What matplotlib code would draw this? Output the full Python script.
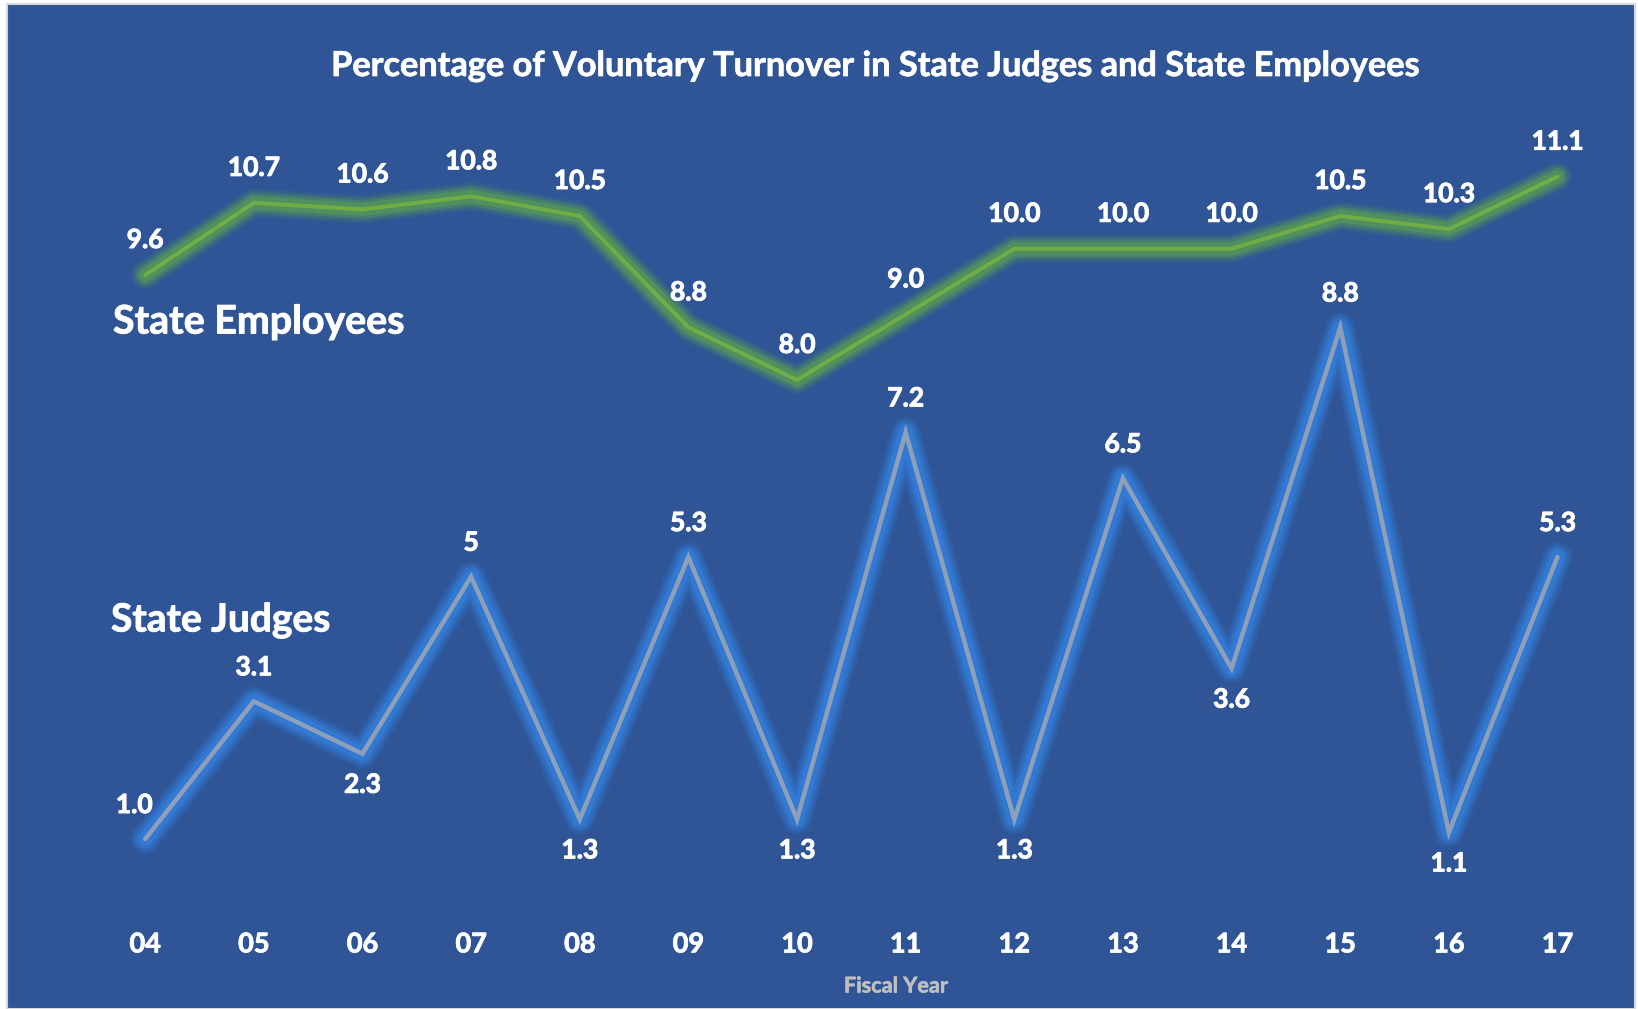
import matplotlib
matplotlib.use("Agg")
import matplotlib.pyplot as plt
from matplotlib.patches import Rectangle
import matplotlib.patheffects as pe

years = ["04", "05", "06", "07", "08", "09", "10", "11", "12", "13", "14", "15", "16", "17"]
employees = [9.6, 10.7, 10.6, 10.8, 10.5, 8.8, 8.0, 9.0, 10.0, 10.0, 10.0, 10.5, 10.3, 11.1]
judges = [1.0, 3.1, 2.3, 5.0, 1.3, 5.3, 1.3, 7.2, 1.3, 6.5, 3.6, 8.8, 1.1, 5.3]
employee_labels = ["9.6", "10.7", "10.6", "10.8", "10.5", "8.8", "8.0", "9.0", "10.0", "10.0", "10.0", "10.5", "10.3", "11.1"]
judge_labels = ["1.0", "3.1", "2.3", "5", "1.3", "5.3", "1.3", "7.2", "1.3", "6.5", "3.6", "8.8", "1.1", "5.3"]
judge_label_side = ["above", "above", "below", "above", "below", "above", "below",
                    "above", "below", "above", "below", "above", "below", "above"]
title = "Percentage of Voluntary Turnover in State Judges and State Employees"

W, H = 1638, 1009
BG = "#2F5597"
FONT = "Lato"

fig = plt.figure(figsize=(W / 100, H / 100), dpi=100)
fig.patch.set_facecolor("white")
# chart area background with thin light border
fig.patches.append(Rectangle((7 / W, 0), (1635 - 7) / W, (H - 4) / H, transform=fig.transFigure,
                             facecolor=BG, edgecolor="#D9D9D9", linewidth=1.5, zorder=-10))

left_px, right_px = 80, 1622.7
bottom_px, top_px = 904.6, 117.6
ax = fig.add_axes([left_px / W, 1 - bottom_px / H, (right_px - left_px) / W, (bottom_px - top_px) / H])
ax.set_facecolor("none")
ax.set_zorder(5)
x = list(range(len(years)))
ax.set_xlim(-0.6, len(years) - 1 + 0.6)
ax.set_ylim(0, 12)
for s in ax.spines.values():
    s.set_visible(False)
ax.set_yticks([])
ax.set_xticks(x)
ax.set_xticklabels(years, color="white", fontsize=19.5, fontweight="bold", family=FONT)
for t in ax.get_xticklabels():
    t.set_path_effects([pe.withStroke(linewidth=0.6, foreground="white")])
ax.tick_params(axis="x", length=0, pad=20)

px = 0.72  # points per pixel
bold_fx = [pe.withStroke(linewidth=0.7, foreground="white")]


def glow_line(ys, line_color, glow_color, lw_px, layers):
    for w, a in layers:
        ax.plot(x, ys, color=glow_color, lw=w * px, alpha=a, solid_joinstyle="round",
                solid_capstyle="round", zorder=2)
    ax.plot(x, ys, color=line_color, lw=lw_px * px, solid_joinstyle="miter",
            solid_capstyle="round", zorder=3)


glow_line(employees, "#70AD47", "#5EA84A",
          4, [(28, 0.12), (23, 0.2), (18, 0.3), (13, 0.45)])
glow_line(judges, "#8E9FBA", "#3381E0",
          4.5, [(30, 0.15), (25, 0.25), (20, 0.38), (14, 0.6)])

for xi, v, lab in zip(x, employees, employee_labels):
    ax.annotate(lab, (xi, v), xytext=(0, 35 * px), textcoords="offset points",
                ha="center", va="center", color="white", fontsize=19,
                fontweight="bold", family=FONT, zorder=5, path_effects=bold_fx)

for i, (xi, v, lab, side) in enumerate(zip(x, judges, judge_labels, judge_label_side)):
    dy = 34 if side == "above" else -31
    dx = -11 if i == 0 else 0
    ax.annotate(lab, (xi, v), xytext=(dx * px, dy * px), textcoords="offset points",
                ha="center", va="center", color="white", fontsize=19,
                fontweight="bold", family=FONT, zorder=5, path_effects=bold_fx)

fig.text(875 / W, 1 - 66 / H, title, ha="center", va="center", color="white",
         fontsize=24.7, fontweight="bold", family=FONT,
         path_effects=[pe.withStroke(linewidth=0.5, foreground="white")])
fig.text(113 / W, 1 - 322 / H, "State Employees", ha="left", va="center", color="white",
         fontsize=28.3, fontweight="bold", family=FONT,
         path_effects=[pe.withStroke(linewidth=0.6, foreground="white")])
fig.text(111 / W, 1 - 620 / H, "State Judges", ha="left", va="center", color="white",
         fontsize=28, fontweight="bold", family=FONT,
         path_effects=[pe.withStroke(linewidth=0.6, foreground="white")])
fig.text(896 / W, 1 - 986 / H, "Fiscal Year", ha="center", va="center", color="#BFBFBF",
         fontsize=15.6, fontweight="bold", family=FONT,
         path_effects=[pe.withStroke(linewidth=0.4, foreground="#BFBFBF")])

fig.savefig("out.png", dpi=100, facecolor=fig.get_facecolor())
